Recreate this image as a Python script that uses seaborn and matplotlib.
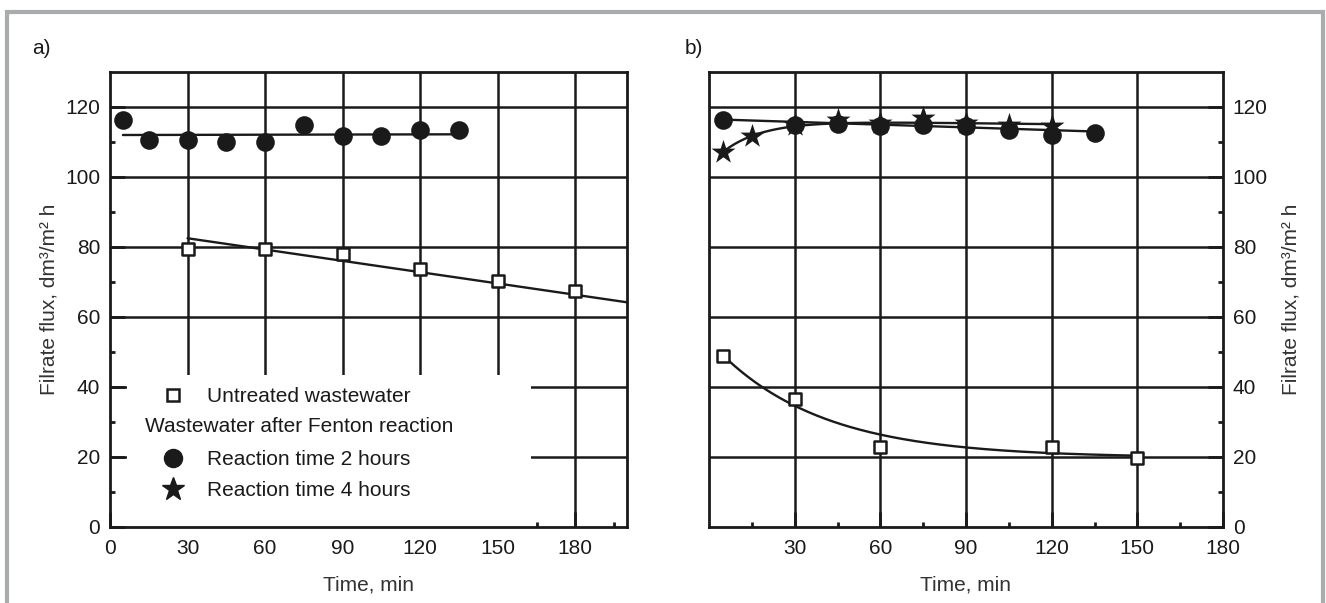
import numpy as np
import matplotlib
matplotlib.use("Agg")
import matplotlib.pyplot as plt
import seaborn as sns
from matplotlib.lines import Line2D
from matplotlib.patches import Rectangle

# ---------------- data ----------------
# panel a)
a_sq_x = [30, 60, 90, 120, 150, 180]
a_sq_y = [79.3, 79.5, 77.9, 73.6, 70.4, 67.4]
a_sq_fit_x = [30, 200]
a_sq_fit_y = [82.5, 64.2]

a_c2_x = [5, 15, 30, 45, 60, 75, 90, 105, 120, 135]
a_c2_y = [116.3, 110.7, 110.7, 110.0, 110.0, 114.8, 111.7, 111.7, 113.3, 113.3]
a_c2_fit_x = [5, 135]
a_c2_fit_y = [112.0, 112.2]

# panel b)
b_sq_x = [5, 30, 60, 120, 150]
b_sq_y = [49.0, 36.7, 22.9, 23.0, 19.8]
b_sq_fit = [19.8, 33.4, 37.0]          # a + b*exp(-t/c)
b_sq_range = [5, 150]

b_c2_x = [5, 30, 45, 60, 75, 90, 105, 120, 135]
b_c2_y = [116.2, 115.0, 115.1, 114.5, 115.0, 114.5, 113.5, 112.1, 112.6]
b_c2_fit_x = [5, 135]
b_c2_fit_y = [116.4, 113.0]

b_s4_x = [5, 15, 30, 45, 60, 75, 90, 105, 120]
b_s4_y = [107.1, 111.6, 114.8, 116.4, 115.4, 116.9, 115.4, 115.0, 114.5]
b_s4_fit = [116.3, -0.01, 12.9, 14.0]  # a + m*t - b*exp(-t/c)
b_s4_range = [5, 120]

x_ticks_a = [0, 30, 60, 90, 120, 150, 180]
x_ticks_b = [30, 60, 90, 120, 150, 180]
y_ticks = [0, 20, 40, 60, 80, 100, 120]
legend_labels = ["Untreated wastewater", "Wastewater after Fenton reaction",
                 "Reaction time 2 hours", "Reaction time 4 hours"]
y_label = "Filrate flux, dm³/m² h"
x_label = "Time, min"

# ---------------- style ----------------
sns.set_theme(style="ticks")
plt.rcParams['font.family'] = ['Liberation Sans', 'DejaVu Sans']
plt.rcParams.update({
    "axes.linewidth": 2.0,
    "axes.edgecolor": "#1a1a1a",
    "xtick.direction": "in",
    "ytick.direction": "in",
    "xtick.major.size": 11, "ytick.major.size": 11,
    "xtick.minor.size": 3.5, "ytick.minor.size": 3.5,
    "xtick.major.width": 2.0, "ytick.major.width": 2.0,
    "xtick.minor.width": 2.0, "ytick.minor.width": 2.0,
    "xtick.color": "#1a1a1a", "ytick.color": "#1a1a1a",
    "xtick.labelcolor": "#1a1a1a", "ytick.labelcolor": "#1a1a1a",
    "font.size": 15,
    "axes.labelcolor": "#333333",
})

fig = plt.figure(figsize=(13.26, 6.03), dpi=100)
fig.patch.set_facecolor("white")
W, H = 1326.0, 603.0

# outer grey frame (open at the bottom)
frame = Rectangle((6.5 / W, -0.05), (1323 - 6.5) / W, (603 - 12) / H + 0.05,
                  transform=fig.transFigure, fill=False, edgecolor="#aaabad",
                  linewidth=3.0, zorder=0)
fig.patches.append(frame)

axA = fig.add_axes([110 / W, (603 - 527) / H, 517 / W, 455 / H])
axB = fig.add_axes([709 / W, (603 - 527) / H, 514 / W, 455 / H])

GRID_KW = dict(color="#1a1a1a", lw=1.8, zorder=0.8)
LINE_KW = dict(color="#1a1a1a", lw=1.7)


def style_axis(ax, xmax, xticks, xminor, right=False):
    ax.set_xlim(0, xmax)
    ax.set_ylim(0, 130)
    ax.set_xticks(xticks)
    ax.set_xticks(xminor, minor=True)
    ax.set_yticks(y_ticks)
    ax.set_yticks(np.arange(10, 130, 20), minor=True)
    for v in xticks:
        if 0 < v < xmax:
            ax.axvline(v, **GRID_KW)
    for v in y_ticks[1:]:
        ax.axhline(v, **GRID_KW)
    for s in ax.spines.values():
        s.set_visible(True)
        s.set_linewidth(2.0)
        s.set_zorder(5)
    ax.tick_params(axis="x", which="major", pad=9, labelsize=15)
    ax.tick_params(axis="y", which="major", pad=7, labelsize=15)
    if right:
        ax.yaxis.tick_right()
        ax.yaxis.set_label_position("right")
        ax.tick_params(axis="y", which="both", left=False, right=True)
        ax.set_ylabel(y_label, fontsize=15, labelpad=10, color="#333333")
    else:
        ax.set_ylabel(y_label, fontsize=15, labelpad=4.5, color="#333333")
    ax.set_xlabel(x_label, fontsize=15, labelpad=12, color="#333333")
    ax.set_facecolor("white")


style_axis(axA, 200, x_ticks_a, np.arange(15, 200, 30))
style_axis(axB, 180, x_ticks_b, np.arange(15, 180, 30), right=True)

# white area behind the legend in panel a)
axA.add_patch(Rectangle((0.033, 0.0), 0.781, 0.334, transform=axA.transAxes,
                        facecolor="white", edgecolor="none", zorder=1))

SQ = dict(marker="s", s=80, color="white", edgecolor="#1a1a1a", linewidth=1.8, zorder=6)
CI = dict(marker="o", s=180, color="#1a1a1a", edgecolor="#1a1a1a", linewidth=0, zorder=6)
ST = dict(marker="*", s=330, color="#1a1a1a", edgecolor="#1a1a1a", linewidth=0, zorder=7)

# ---- panel a)
sns.lineplot(x=a_sq_fit_x, y=a_sq_fit_y, ax=axA, zorder=4, **LINE_KW)
sns.lineplot(x=a_c2_fit_x, y=a_c2_fit_y, ax=axA, zorder=4, **LINE_KW)
sns.scatterplot(x=a_sq_x, y=a_sq_y, ax=axA, **SQ)
sns.scatterplot(x=a_c2_x, y=a_c2_y, ax=axA, **CI)

# ---- panel b)
t_sq = np.linspace(b_sq_range[0], b_sq_range[1], 200)
sns.lineplot(x=t_sq, y=b_sq_fit[0] + b_sq_fit[1] * np.exp(-t_sq / b_sq_fit[2]),
             ax=axB, zorder=4, **LINE_KW)
t_s4 = np.linspace(b_s4_range[0], b_s4_range[1], 200)
sns.lineplot(x=t_s4, y=b_s4_fit[0] + b_s4_fit[1] * t_s4 - b_s4_fit[2] * np.exp(-t_s4 / b_s4_fit[3]),
             ax=axB, zorder=4, **LINE_KW)
sns.lineplot(x=b_c2_fit_x, y=b_c2_fit_y, ax=axB, zorder=4, **LINE_KW)
sns.scatterplot(x=b_sq_x, y=b_sq_y, ax=axB, **SQ)
sns.scatterplot(x=b_c2_x, y=b_c2_y, ax=axB, **CI)
sns.scatterplot(x=b_s4_x, y=b_s4_y, ax=axB, **ST)

for ax in (axA, axB):
    lg = ax.get_legend()
    if lg is not None:
        lg.remove()

# ---- legend in panel a)
h_sq = Line2D([], [], ls="none", marker="s", ms=8.5, mfc="white", mec="#1a1a1a", mew=1.8)
h_blank = Line2D([], [], ls="none", marker=None)
h_ci = Line2D([], [], ls="none", marker="o", ms=13, mfc="#1a1a1a", mec="#1a1a1a")
h_st = Line2D([], [], ls="none", marker="*", ms=17, mfc="#1a1a1a", mec="#1a1a1a")
leg = axA.legend(handles=[h_sq, h_blank, h_ci, h_st],
                 labels=[legend_labels[0], "Wastewater", legend_labels[2], legend_labels[3]],
                 loc="upper left", bbox_to_anchor=(0.0986, 0.3077),
                 frameon=False, borderpad=0, borderaxespad=0,
                 handlelength=1.2, handletextpad=1.03, labelspacing=0.6,
                 fontsize=15)
for i, t in enumerate(leg.get_texts()):
    t.set_color("#1a1a1a")
    if i == 1:
        t.set_alpha(0.0)
leg.set_zorder(8)
axA.text(0.067, 0.2204, legend_labels[1], transform=axA.transAxes,
         ha="left", va="center", fontsize=15, color="#1a1a1a", zorder=8)

# panel letters
fig.text(32 / W, 1 - 48 / H, "a)", ha="left", va="center", fontsize=15, color="#1a1a1a")
fig.text(685 / W, 1 - 48 / H, "b)", ha="left", va="center", fontsize=15, color="#1a1a1a")

fig.savefig("out.png", dpi=100)
